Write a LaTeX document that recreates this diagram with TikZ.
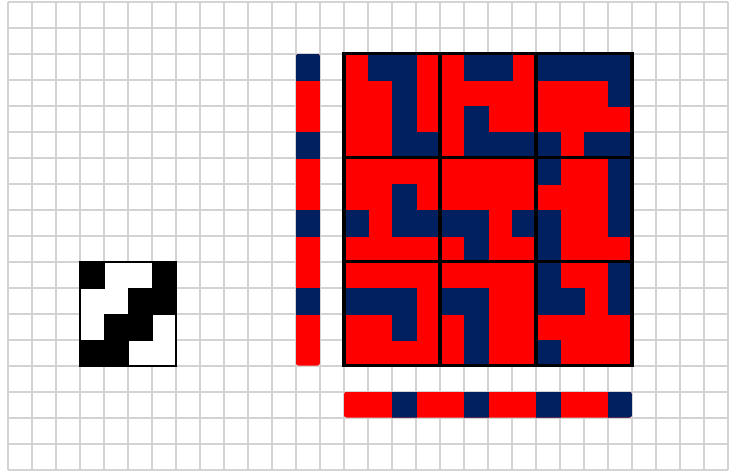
\documentclass[tikz,border=0pt]{standalone}
\usepackage{xcolor}
\usepackage{tikz}
\definecolor{gridgray}{HTML}{D3D3D3}
\definecolor{cellred}{HTML}{FF0000}
\definecolor{cellnavy}{HTML}{002060}
\tikzset{
    gridline/.style={
        draw=gridgray, line width=1.8pt
    },
    cellfill/.style={
        fill=#1, draw=#1, line width=0.3pt
    },
    cellfill/.default=cellred,
    blockframe/.style={
        draw=black, line width=3.2pt, line cap=rect
    },
    patternframe/.style={
        draw=black, line width=2pt
    },
}

\begin{document}
\begin{tikzpicture}[x=24pt, y=-26pt]

    % Background and margins
    \fill[white] (-8pt,1.7pt) rectangle (724pt,-472.3pt);

    % Grid
    \foreach \gx in {0,...,30} \draw[gridline] (\gx,0) -- (\gx,18);
    \foreach \gy in {0,...,18} \draw[gridline] (0,\gy) -- (30,\gy);

    % Small pattern
    \fill[white] (3,10) rectangle (7,14);
    \foreach \pc/\pr in {0/0,3/0,2/1,3/1,1/2,2/2,0/3,1/3}
        \fill[cellfill=black] (3+\pc,10+\pr) rectangle ++(1,1);
    \draw[patternframe] (3,10) rectangle (7,14);

    % Row bar
    \begin{scope}
        \clip[rounded corners=3pt] (12,2) rectangle (13,14);
        \fill[cellfill] (12,2) rectangle (13,14);
        \foreach \k in {0,3,6,9}
            \fill[cellfill=cellnavy] (12,2+\k) rectangle ++(1,1);
    \end{scope}

    % Column bar
    \begin{scope}
        \clip[rounded corners=3pt] (14,15) rectangle (26,16);
        \fill[cellfill] (14,15) rectangle (26,16);
        \foreach \k in {2,5,8,11}
            \fill[cellfill=cellnavy] (14+\k,15) rectangle ++(1,1);
    \end{scope}

    % Main block
    \fill[cellfill] (14,2) rectangle (26,14);
    \foreach \row [count=\r from 0] in {
        {1,0,0,1,1,0,0,1,0,0,0,0},
        {1,1,0,1,1,1,1,1,1,1,1,0},
        {1,1,0,1,1,0,1,1,1,1,1,1},
        {1,1,0,0,1,0,0,0,0,1,0,0},
        {1,1,1,1,1,1,1,1,0,1,1,0},
        {1,1,0,1,1,1,1,1,1,1,1,0},
        {0,1,0,0,0,0,1,0,0,1,1,0},
        {1,1,1,1,1,0,1,1,0,1,1,1},
        {1,1,1,1,1,1,1,1,0,1,1,0},
        {0,0,0,1,0,0,1,1,0,0,1,0},
        {1,1,0,1,1,0,1,1,1,1,1,1},
        {1,1,1,1,1,0,1,1,0,1,1,1}}
        \foreach \v [count=\c from 0] in \row {
            \ifnum\v=0 \fill[cellfill=cellnavy] (14+\c,2+\r) rectangle ++(1,1);\fi
        };

    % Block frames
    \draw[blockframe] (14,2) rectangle (26,14);
    \foreach \k in {4,8} {
        \draw[blockframe] (14+\k,2) -- (14+\k,14);
        \draw[blockframe] (14,2+\k) -- (26,2+\k);
    }

\end{tikzpicture}
\end{document}
